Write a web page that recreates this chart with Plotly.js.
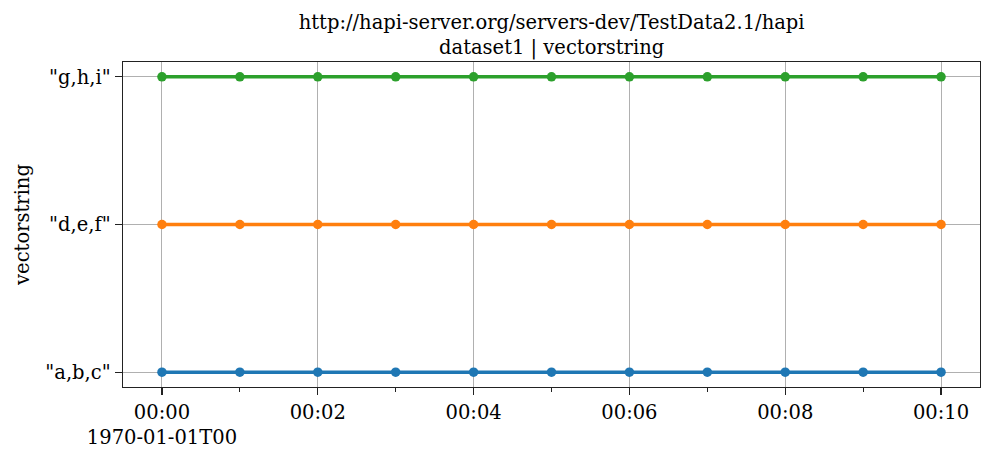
<!DOCTYPE html>
<html>
<head>
<meta charset="utf-8">
<script src="https://cdn.plot.ly/plotly-3.0.1.min.js"></script>
<style>body{margin:0;padding:0;background:#fff}#chart{width:993px;height:456px}</style>
</head>
<body>
<div id="chart"></div>
<script>
const times = [
  '1970-01-01 00:00:00','1970-01-01 00:01:00','1970-01-01 00:02:00','1970-01-01 00:03:00',
  '1970-01-01 00:04:00','1970-01-01 00:05:00','1970-01-01 00:06:00','1970-01-01 00:07:00',
  '1970-01-01 00:08:00','1970-01-01 00:09:00','1970-01-01 00:10:00'
];
const categories = ['"a,b,c"', '"d,e,f"', '"g,h,i"'];
const seriesABC = ['"a,b,c"','"a,b,c"','"a,b,c"','"a,b,c"','"a,b,c"','"a,b,c"','"a,b,c"','"a,b,c"','"a,b,c"','"a,b,c"','"a,b,c"'];
const seriesDEF = ['"d,e,f"','"d,e,f"','"d,e,f"','"d,e,f"','"d,e,f"','"d,e,f"','"d,e,f"','"d,e,f"','"d,e,f"','"d,e,f"','"d,e,f"'];
const seriesGHI = ['"g,h,i"','"g,h,i"','"g,h,i"','"g,h,i"','"g,h,i"','"g,h,i"','"g,h,i"','"g,h,i"','"g,h,i"','"g,h,i"','"g,h,i"'];
const colors = ['#1f77b4', '#ff7f0e', '#2ca02c'];
const majorTickVals = ['1970-01-01 00:00:00','1970-01-01 00:02:00','1970-01-01 00:04:00','1970-01-01 00:06:00','1970-01-01 00:08:00','1970-01-01 00:10:00'];
const majorTickText = ['00:00<br>1970-01-01T00','00:02','00:04','00:06','00:08','00:10'];
const minorTickVals = ['1970-01-01 00:01:00','1970-01-01 00:03:00','1970-01-01 00:05:00','1970-01-01 00:07:00','1970-01-01 00:09:00'];
const titleText = 'http://hapi-server.org/servers-dev/TestData2.1/hapi<br>dataset1 | vectorstring';
const yTitle = 'vectorstring';

const font = 'DejaVu Serif, serif';
const fs = 19.5;
const allSeries = [seriesABC, seriesDEF, seriesGHI];
const traces = allSeries.map((s, i) => ({
  x: times, y: s, type: 'scatter', mode: 'lines+markers',
  line: {color: colors[i], width: 3.5},
  marker: {color: colors[i], size: 9.5},
  showlegend: false, hoverinfo: 'x+y'
}));

const layout = {
  width: 993, height: 456,
  margin: {l: 123, r: 13, t: 62, b: 69, pad: 0},
  paper_bgcolor: '#ffffff', plot_bgcolor: '#ffffff',
  font: {family: font, size: fs, color: '#000'},
  title: {text: titleText, font: {family: font, size: fs, color: '#000'}, x: 0.5555, xanchor: 'center', yref: 'container', y: 0.937, yanchor: 'top'},
  xaxis: {
    type: 'date',
    range: ['1969-12-31 23:59:30', '1970-01-01 00:10:30'],
    tickmode: 'array', tickvals: majorTickVals, ticktext: majorTickText,
    ticks: 'outside', ticklen: 7, tickwidth: 1.2, tickcolor: '#222',
    showgrid: true, gridcolor: '#b0b0b0', gridwidth: 1,
    showline: true, linecolor: '#222', linewidth: 1.4, mirror: true,
    zeroline: false,
    tickfont: {family: font, size: fs, color: '#000'},
    minor: {tickmode: 'array', tickvals: minorTickVals, ticks: 'outside', ticklen: 4, tickwidth: 1, tickcolor: '#222', showgrid: false}
  },
  yaxis: {
    type: 'category', categoryorder: 'array', categoryarray: categories,
    range: [-0.1, 2.1],
    ticks: 'outside', ticklen: 7, tickwidth: 1.2, tickcolor: '#222',
    showgrid: true, gridcolor: '#b0b0b0', gridwidth: 1,
    showline: true, linecolor: '#222', linewidth: 1.4, mirror: true,
    zeroline: false,
    tickfont: {family: font, size: fs, color: '#000'},
    title: {text: yTitle, font: {family: font, size: fs, color: '#000'}, standoff: 10}
  }
};
Plotly.newPlot('chart', traces, layout, {staticPlot: true, displayModeBar: false});
</script>
</body>
</html>
